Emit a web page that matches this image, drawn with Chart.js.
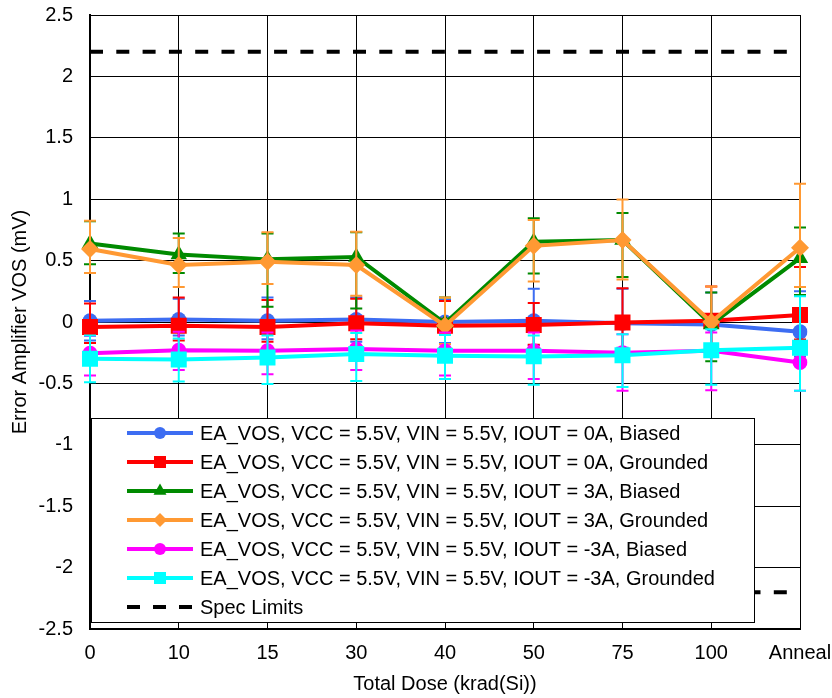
<!DOCTYPE html>
<html><head><meta charset="utf-8">
<script src="https://cdn.jsdelivr.net/npm/chart.js@4.4.1/dist/chart.umd.min.js"></script>
<style>html,body{margin:0;padding:0;background:#fff;}#wrap{position:relative;width:832px;height:698px;}</style>
</head><body><div id="wrap"><canvas id="c" width="832" height="698"></canvas></div>
<script>
// ---- data ----
const categories = ['0', '10', '15', '30', '40', '50', '75', '100', 'Anneal'];
const seriesLabels = [
  'EA_VOS, VCC = 5.5V, VIN = 5.5V, IOUT = 0A, Biased',
  'EA_VOS, VCC = 5.5V, VIN = 5.5V, IOUT = 0A, Grounded',
  'EA_VOS, VCC = 5.5V, VIN = 5.5V, IOUT = 3A, Biased',
  'EA_VOS, VCC = 5.5V, VIN = 5.5V, IOUT = 3A, Grounded',
  'EA_VOS, VCC = 5.5V, VIN = 5.5V, IOUT = -3A, Biased',
  'EA_VOS, VCC = 5.5V, VIN = 5.5V, IOUT = -3A, Grounded'
];
const specLabel = 'Spec Limits';
const specUpper = 2.2;
const specLower = -2.2;

const vos0ABiased      = [0.01, 0.02, 0.01, 0.02, 0.00, 0.01, -0.01, -0.02, -0.08];
const vos0AGrounded    = [-0.04, -0.03, -0.04, -0.01, -0.03, -0.025, -0.005, 0.01, 0.057];
const vos3ABiased      = [0.64, 0.55, 0.51, 0.53, -0.01, 0.654, 0.667, -0.02, 0.52];
const vos3AGrounded    = [0.595, 0.464, 0.49, 0.464, -0.03, 0.62, 0.667, 0.00, 0.605];
const vosM3ABiased     = [-0.255, -0.23, -0.235, -0.22, -0.235, -0.235, -0.25, -0.235, -0.33];
const vosM3AGrounded   = [-0.30, -0.305, -0.29, -0.26, -0.275, -0.28, -0.27, -0.23, -0.21];

// error bar extents (+ / -)
const err0ABiasedUp     = [0.16, 0.17, 0.19, 0.18, 0.18, 0.26, 0.28, 0.26, 0.33];
const err0ABiasedDn     = [0.16, 0.13, 0.15, 0.18, 0.17, 0.20, 0.20, 0.22, 0.20];
const err0AGroundedUp   = [0.19, 0.23, 0.22, 0.20, 0.20, 0.18, 0.28, 0.28, 0.39];
const err0AGroundedDn   = [0.13, 0.12, 0.12, 0.13, 0.15, 0.16, 0.25, 0.20, 0.20];
const err3ABiasedUp     = [0.18, 0.17, 0.21, 0.20, 0.21, 0.19, 0.22, 0.26, 0.25];
const err3ABiasedDn     = [0.17, 0.15, 0.385, 0.42, 0.20, 0.26, 0.30, 0.30, 0.30];
const err3AGroundedUp   = [0.23, 0.22, 0.24, 0.27, 0.23, 0.21, 0.33, 0.29, 0.52];
const err3AGroundedDn   = [0.195, 0.18, 0.18, 0.25, 0.15, 0.29, 0.32, 0.20, 0.32];
const errM3ABiasedUp    = [0.14, 0.15, 0.15, 0.15, 0.15, 0.15, 0.15, 0.15, 0.15];
const errM3ABiasedDn    = [0.18, 0.16, 0.19, 0.17, 0.20, 0.23, 0.31, 0.32, 0.23];
const errM3AGroundedUp  = [0.19, 0.17, 0.18, 0.17, 0.17, 0.17, 0.17, 0.17, 0.42];
const errM3AGroundedDn  = [0.19, 0.18, 0.215, 0.22, 0.19, 0.23, 0.26, 0.28, 0.35];

const colors = ['#3D6DF2', '#FF0000', '#008A00', '#FF9933', '#FF00FF', '#00FFFF'];
const styles = ['circle', 'rect', 'triangle', 'rectRot', 'circle', 'rect'];
const radii  = [7.5, 11.3, 9.5, 9, 7.5, 11.3];
const legendRadii = [6, 8.5, 7.5, 7, 6, 8.5];

const FONT = "'Liberation Sans', Arial, sans-serif";

const values = [vos0ABiased, vos0AGrounded, vos3ABiased, vos3AGrounded, vosM3ABiased, vosM3AGrounded];
const ups = [err0ABiasedUp, err0AGroundedUp, err3ABiasedUp, err3AGroundedUp, errM3ABiasedUp, errM3AGroundedUp];
const dns = [err0ABiasedDn, err0AGroundedDn, err3ABiasedDn, err3AGroundedDn, errM3ABiasedDn, errM3AGroundedDn];

const datasets = values.map((v, i) => ({
  label: seriesLabels[i],
  data: v,
  errUp: ups[i],
  errDn: dns[i],
  borderColor: colors[i],
  backgroundColor: colors[i],
  borderWidth: 4,
  pointStyle: styles[i],
  pointRadius: radii[i],
  pointBorderWidth: 0,
  pointHoverRadius: radii[i],
  tension: 0,
  order: 20 - i
}));
datasets.push({
  label: specLabel, data: categories.map(() => specUpper), borderColor: '#000', borderWidth: 4,
  borderDash: [13, 13.3], pointRadius: 0, order: 100, spec: true
});
datasets.push({
  label: specLabel + ' low', data: categories.map(() => specLower), borderColor: '#000', borderWidth: 4,
  borderDash: [13, 13.3], pointRadius: 0, order: 101, spec: true
});

const errorBars = {
  id: 'errorBars',
  beforeDatasetDraw(chart, args) {
    const ds = chart.data.datasets[args.index];
    if (!ds.errUp) return;
    const ys = chart.scales.y;
    const ctx = chart.ctx;
    ctx.save();
    ctx.strokeStyle = ds.borderColor;
    ctx.lineWidth = 2;
    args.meta.data.forEach((pt, i) => {
      const v = ds.data[i];
      const yt = ys.getPixelForValue(v + ds.errUp[i]);
      const yb = ys.getPixelForValue(v - ds.errDn[i]);
      const x = pt.x;
      ctx.beginPath();
      ctx.moveTo(x, yt); ctx.lineTo(x, yb);
      ctx.moveTo(x - 6, yt); ctx.lineTo(x + 6, yt);
      ctx.moveTo(x - 6, yb); ctx.lineTo(x + 6, yb);
      ctx.stroke();
    });
    ctx.restore();
  }
};

const boxLegend = {
  id: 'boxLegend',
  afterDraw(chart) {
    const ctx = chart.ctx;
    ctx.save();
    ctx.fillStyle = '#fff';
    ctx.strokeStyle = '#000';
    ctx.lineWidth = 1;
    ctx.fillRect(91.5, 418.5, 663, 204);
    ctx.strokeRect(91.5, 418.5, 663, 204);
    const rowY = [433, 462, 491, 520, 549, 578, 607];
    ctx.font = '20px ' + FONT;
    ctx.textBaseline = 'middle';
    ctx.textAlign = 'left';
    for (let i = 0; i < 6; i++) {
      const y = rowY[i];
      ctx.strokeStyle = colors[i];
      ctx.fillStyle = colors[i];
      ctx.lineWidth = 4;
      ctx.beginPath(); ctx.moveTo(127, y); ctx.lineTo(193, y); ctx.stroke();
      Chart.helpers.drawPoint(ctx, {pointStyle: styles[i], radius: legendRadii[i], rotation: 0, borderWidth: 0}, 160, y);
      ctx.fillStyle = '#000';
      ctx.fillText(seriesLabels[i], 200, y + 1);
    }
    const y = rowY[6];
    ctx.strokeStyle = '#000';
    ctx.lineWidth = 4;
    ctx.setLineDash([13, 13]);
    ctx.beginPath(); ctx.moveTo(127, y); ctx.lineTo(193, y); ctx.stroke();
    ctx.setLineDash([]);
    ctx.fillStyle = '#000';
    ctx.fillText(specLabel, 200, y + 1);
    ctx.restore();
  }
};

new Chart(document.getElementById('c'), {
  type: 'line',
  data: { labels: categories, datasets },
  plugins: [errorBars, boxLegend],
  options: {
    responsive: false,
    animation: false,
    devicePixelRatio: 1,
    layout: { autoPadding: false, padding: { left: 0, top: 15, right: 32, bottom: 0 } },
    plugins: { legend: { display: false }, tooltip: { enabled: false } },
    scales: {
      x: {
        type: 'category',
        offset: false,
        grid: { color: '#000', lineWidth: 1, drawTicks: false, tickLength: 0, offset: false },
        border: { color: '#000', width: 2 },
        ticks: { color: '#000', font: { family: FONT, size: 20 }, padding: 12, maxRotation: 0, autoSkip: false },
        title: { display: true, text: 'Total Dose (krad(Si))', color: '#000', font: { family: FONT, size: 20 }, padding: { top: 0, bottom: 2 } },
        afterFit(s) { s.height = 69; s.paddingLeft = 0; s.paddingRight = 0; }
      },
      y: {
        min: -2.5, max: 2.5,
        grid: { color: '#000', lineWidth: 1, drawTicks: false, tickLength: 0 },
        border: { color: '#000', width: 2 },
        ticks: { stepSize: 0.5, color: '#000', font: { family: FONT, size: 20 }, padding: 17,
                 callback: v => String(Math.round(v * 10) / 10) },
        title: { display: true, text: 'Error Amplifier VOS (mV)', color: '#000', font: { family: FONT, size: 20 }, padding: { top: 8, bottom: 0 } },
        afterFit(s) { s.width = 90; s.paddingTop = 0; s.paddingBottom = 0; }
      }
    }
  }
});
</script></body></html>
